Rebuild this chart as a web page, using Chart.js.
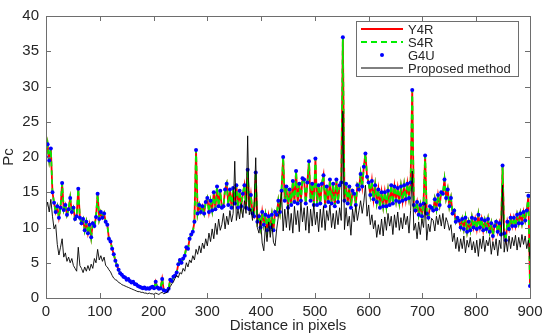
<!DOCTYPE html>
<html>
<head>
<meta charset="utf-8">
<script src="https://cdn.jsdelivr.net/npm/chart.js@4"></script>
<style>
  body { margin: 0; background: #fff; }
</style>
</head>
<body>
<canvas id="pcChart" width="550" height="336"></canvas>
<script>
// sampling positions along the profile (every 3 pixels)
const dist = Array.from({ length: 301 }, (_, i) => i * 3);
const xTicks = [0, 100, 200, 300, 400, 500, 600, 700, 800, 900];
const yTicks = [0, 5, 10, 15, 20, 25, 30, 35, 40];

// Y4R, S4R and G4U lie on top of each other in the figure
const y4r = [
  20, 21.8, 19.5, 21.2, 15, 13.5, 12.2, 13, 11.4, 12.8,
  16.3, 12.5, 13.2, 11.8, 12.6, 14.2, 12.2, 12.8, 11.2, 11.6,
  15.5, 11.4, 10.6, 11.2, 9.6, 10.8, 9.2, 10.4, 8.6, 10.6,
  10.2, 11.5, 14.8, 11.2, 12.2, 11.4, 12.0, 10.8, 10.4, 8.4,
  8.0, 7.0, 6.2, 5.3, 4.6, 4.0, 3.5, 3.3, 3.0, 2.9,
  2.6, 2.7, 2.4, 2.2, 2.3, 2.0, 1.9, 1.7, 1.6, 1.5,
  1.4, 1.5, 1.3, 1.4, 1.3, 1.5, 1.6, 1.4, 2.3, 1.5,
  1.3, 1.4, 2.7, 1.1, 1.0, 1.0, 1.3, 2.6, 2.4, 3.0,
  3.2, 3.6, 4.8, 5.4, 5.0, 5.6, 6.0, 7.2, 7.0, 8.4,
  9.0, 9.4, 10.8, 21, 12.0, 13.2, 12.2, 13.0, 12.0, 13.6,
  14.2, 12.2, 13.8, 12.4, 15.0, 12.6, 15.8, 13.0, 15.2, 12.8,
  13.0, 15.4, 16.2, 13.2, 15.4, 12.8, 15.6, 13.4, 16.0, 12.8,
  15.2, 13.0, 14.8, 16.0, 12.8, 18.2, 12.6, 14.6, 12.0, 11.6,
  17.8, 10.8, 11.6, 10.0, 12.2, 10.4, 11.8, 9.6, 11.6, 10.0,
  11.8, 9.6, 12.2, 11.8, 13.8, 12.2, 15.2, 20, 13.8, 15.8,
  12.8, 15.4, 13.2, 16.6, 13.6, 18.0, 13.4, 16.2, 13.8, 17.0,
  16.8, 13.4, 16.4, 19.4, 13.8, 16.2, 13.2, 19.8, 13.2, 16.0,
  13.4, 16.2, 17.4, 13.0, 15.8, 13.6, 16.8, 13.4, 16.2, 13.0,
  16.8, 13.6, 16.0, 16.4, 37, 13.8, 16.2, 13.4, 15.8, 12.8,
  15.2, 14.8, 13.2, 16.0, 15.4, 17.6, 15.8, 18.6, 20.5, 17.2,
  16.4, 14.6, 16.6, 14.0, 16.0, 13.6, 15.4, 12.8, 15.0, 13.0,
  15.0, 13.0, 15.2, 13.2, 16.0, 13.4, 15.8, 13.8, 15.6, 13.6,
  15.8, 13.8, 16.0, 14.0, 16.2, 14.2, 16.4, 29.5, 13.2, 12.4,
  13.6, 11.8, 13.2, 11.6, 13.4, 20.2, 12.0, 11.4, 13.0, 12.8,
  12.4, 14.0, 12.6, 14.6, 13.2, 15.0, 14.8, 16.8, 14.2, 15.4,
  13.0, 14.2, 12.0, 12.4, 10.8, 11.4, 11.0, 10.0, 11.2, 9.8,
  11.4, 9.4, 10.8, 9.6, 11.4, 10.0, 11.2, 9.8, 11.8, 10.0,
  11.2, 9.6, 11.0, 9.8, 11.2, 9.4, 10.6, 8.8, 10.2, 10.8,
  9.4, 10.6, 9.0, 18.8, 9.2, 8.2, 10.8, 9.8, 11.4, 10.2,
  11.4, 10.2, 11.8, 10.6, 12.0, 10.6, 12.2, 11.0, 12.4, 14.5,
  1.7
];
const s4r = [...y4r];
const g4u = [...y4r];

const proposed = [
  12.5, 13.6, 12.2, 14.0, 11.6, 9.8, 10.4, 7.6, 6.1, 7.2,
  8.4, 5.8, 6.4, 5.2, 5.8, 5.0, 5.6, 4.6, 4.2, 3.8,
  7.2, 4.6, 4.2, 3.6, 4.4, 3.8, 4.6, 3.9, 4.8, 4.2,
  5.6, 5.0, 6.9, 5.4, 6.0, 5.2, 5.8, 4.6, 4.4, 4.0,
  3.7, 3.2, 2.8, 2.6, 2.5, 2.2, 2.1, 1.9, 1.8, 1.7,
  1.6, 1.5, 1.4, 1.3, 1.2, 1.1, 1.0, 0.9, 0.9, 0.8,
  0.8, 0.7, 0.7, 0.6, 0.7, 0.6, 0.6, 0.5, 0.7, 0.6,
  0.5, 0.7, 0.8, 0.6, 0.7, 0.8, 1.2, 1.6, 2.0, 2.3,
  2.8, 3.2, 2.9, 3.6, 3.4, 4.2, 3.8, 5.0, 4.4, 5.4,
  5.0, 6.0, 5.4, 6.9, 6.2, 7.4, 6.4, 7.8, 7.0, 8.4,
  7.4, 9.2, 8.0, 9.8, 8.4, 10.6, 9.0, 11.2, 9.6, 10.4,
  12.0, 9.8, 11.6, 10.4, 12.4, 10.8, 12.0, 19.4, 11.0, 12.6,
  11.2, 13.4, 11.4, 13.8, 12.0, 23.0, 11.8, 12.6, 11.0, 13.2,
  19.9, 10.0, 9.2, 11.0, 7.8, 6.7, 10.2, 8.0, 10.8, 8.6,
  10.6, 7.9, 7.4, 9.8, 11.5, 12.8, 15.0, 9.5, 12.6, 10.0,
  13.2, 9.6, 12.0, 9.2, 13.0, 10.4, 12.4, 9.4, 13.6, 10.8,
  12.8, 9.6, 13.0, 9.2, 12.6, 10.2, 13.4, 10.4, 12.2, 9.4,
  12.6, 10.0, 13.0, 9.6, 12.4, 11.0, 13.2, 10.0, 12.0, 9.8,
  12.4, 10.4, 12.8, 11.0, 26.5, 9.7, 12.8, 10.2, 11.6, 8.9,
  12.6, 10.8, 13.2, 11.0, 12.4, 13.8, 12.0, 13.6, 16.0, 11.6,
  13.2, 10.4, 11.8, 9.8, 11.0, 8.6, 10.4, 9.0, 11.2, 8.8,
  11.5, 9.6, 12.0, 10.2, 11.6, 9.0, 11.8, 10.0, 12.2, 9.6,
  11.4, 9.8, 12.0, 10.4, 11.6, 9.2, 12.4, 18.0, 9.6, 10.6,
  8.4, 10.8, 9.0, 11.2, 10.0, 13.5, 8.2, 10.5, 9.4, 11.3,
  11.0, 9.5, 11.6, 10.4, 11.8, 10.2, 12.0, 9.8, 11.4, 10.7,
  9.6, 10.4, 8.0, 9.2, 7.0, 8.6, 6.6, 8.4, 7.0, 8.8,
  6.4, 8.2, 7.2, 8.6, 6.8, 8.0, 6.4, 8.2, 5.9, 8.4,
  7.0, 8.8, 6.6, 8.2, 7.4, 8.6, 6.2, 8.0, 6.8, 8.4,
  6.0, 8.2, 7.0, 16.0, 6.5, 8.4, 6.6, 8.8, 7.0, 8.6,
  7.4, 8.9, 6.8, 8.6, 7.2, 9.0, 7.6, 8.8, 7.0, 8.2,
  5.5
];

const seriesNames = ["Y4R", "S4R", "G4U", "Proposed method"];

function pts(arr) {
  return dist.map((d, i) => ({ x: d, y: arr[i] }));
}

const fontFam = "'Liberation Sans', Arial, sans-serif";
const textCol = "#262626";

// MATLAB style box with inward ticks on all four sides, plus the legend
const boxPlugin = {
  id: "box",
  afterDatasetsDraw(chart) {
    const { ctx, chartArea: a, scales: { x, y } } = chart;
    ctx.save();
    ctx.strokeStyle = "#6e6e6e";
    ctx.lineWidth = 1;
    ctx.strokeRect(Math.round(a.left) + 0.5, Math.round(a.top) + 0.5,
      Math.round(a.right - a.left), Math.round(a.bottom - a.top));
    ctx.beginPath();
    xTicks.forEach(v => {
      const px = Math.round(x.getPixelForValue(v)) + 0.5;
      ctx.moveTo(px, a.bottom); ctx.lineTo(px, a.bottom - 5);
      ctx.moveTo(px, a.top); ctx.lineTo(px, a.top + 5);
    });
    yTicks.forEach(v => {
      const py = Math.round(y.getPixelForValue(v)) + 0.5;
      ctx.moveTo(a.left, py); ctx.lineTo(a.left + 5, py);
      ctx.moveTo(a.right, py); ctx.lineTo(a.right - 5, py);
    });
    ctx.stroke();
    ctx.restore();
  },
  afterDraw(chart) {
    const ctx = chart.ctx;
    const bx = 356, by = 21, bw = 162, bh = 55;
    ctx.save();
    ctx.fillStyle = "#fff";
    ctx.fillRect(bx, by, bw, bh);
    ctx.strokeStyle = "#6e6e6e";
    ctx.lineWidth = 1;
    ctx.strokeRect(bx + 0.5, by + 0.5, bw, bh);
    const rows = [29, 42, 55, 68];
    ctx.strokeStyle = "#ff0000"; ctx.lineWidth = 1.8;
    ctx.beginPath(); ctx.moveTo(361, rows[0]); ctx.lineTo(403, rows[0]); ctx.stroke();
    ctx.strokeStyle = "#00ee00"; ctx.setLineDash([6, 4]);
    ctx.beginPath(); ctx.moveTo(361, rows[1]); ctx.lineTo(403, rows[1]); ctx.stroke();
    ctx.setLineDash([]);
    ctx.fillStyle = "#0000ff";
    ctx.beginPath(); ctx.arc(382, rows[2], 2, 0, Math.PI * 2); ctx.fill();
    ctx.strokeStyle = "#000"; ctx.lineWidth = 1;
    ctx.beginPath(); ctx.moveTo(361, rows[3]); ctx.lineTo(403, rows[3]); ctx.stroke();
    ctx.fillStyle = textCol;
    ctx.font = "13px " + fontFam;
    ctx.textBaseline = "middle";
    seriesNames.forEach((n, i) => ctx.fillText(n, 408, rows[i] + 1));
    ctx.restore();
  }
};

new Chart(document.getElementById("pcChart"), {
  type: "line",
  data: {
    datasets: [
      { label: seriesNames[0], data: pts(y4r), borderColor: "#ff0000", borderWidth: 1.8, pointRadius: 0, order: 4 },
      { label: seriesNames[1], data: pts(s4r), borderColor: "#00ee00", borderWidth: 1.8, borderDash: [5, 4], pointRadius: 0, order: 3 },
      { label: seriesNames[2], data: pts(g4u), showLine: false, pointRadius: 2, pointBackgroundColor: "#0000ff", pointBorderColor: "#0000ff", pointBorderWidth: 0, order: 2 },
      { label: seriesNames[3], data: pts(proposed), borderColor: "#000000", borderWidth: 0.9, pointRadius: 0, order: 1 }
    ]
  },
  options: {
    responsive: false,
    animation: false,
    layout: { padding: { top: 13, right: 20, left: 0, bottom: 0 } },
    plugins: { legend: { display: false }, tooltip: { enabled: false } },
    scales: {
      x: {
        type: "linear", min: 0, max: 900,
        afterBuildTicks: s => { s.ticks = xTicks.map(v => ({ value: v })); },
        afterFit: s => { s.height = 38; },
        grid: { display: false, drawTicks: false },
        border: { display: false },
        ticks: { padding: 5, color: textCol, font: { family: fontFam, size: 15 }, maxRotation: 0 },
        title: { display: true, text: "Distance in pixels", color: textCol, font: { family: fontFam, size: 15 }, padding: { top: 0, bottom: 1 } }
      },
      y: {
        min: 0, max: 40,
        afterBuildTicks: s => { s.ticks = yTicks.map(v => ({ value: v })); },
        afterFit: s => { s.width = 46; },
        grid: { display: false, drawTicks: false },
        border: { display: false },
        ticks: { padding: 7, color: textCol, font: { family: fontFam, size: 15 } },
        title: { display: true, text: "Pc", color: textCol, font: { family: fontFam, size: 15 }, padding: { top: 0, bottom: 0 } }
      }
    }
  },
  plugins: [boxPlugin]
});
</script>
</body>
</html>
